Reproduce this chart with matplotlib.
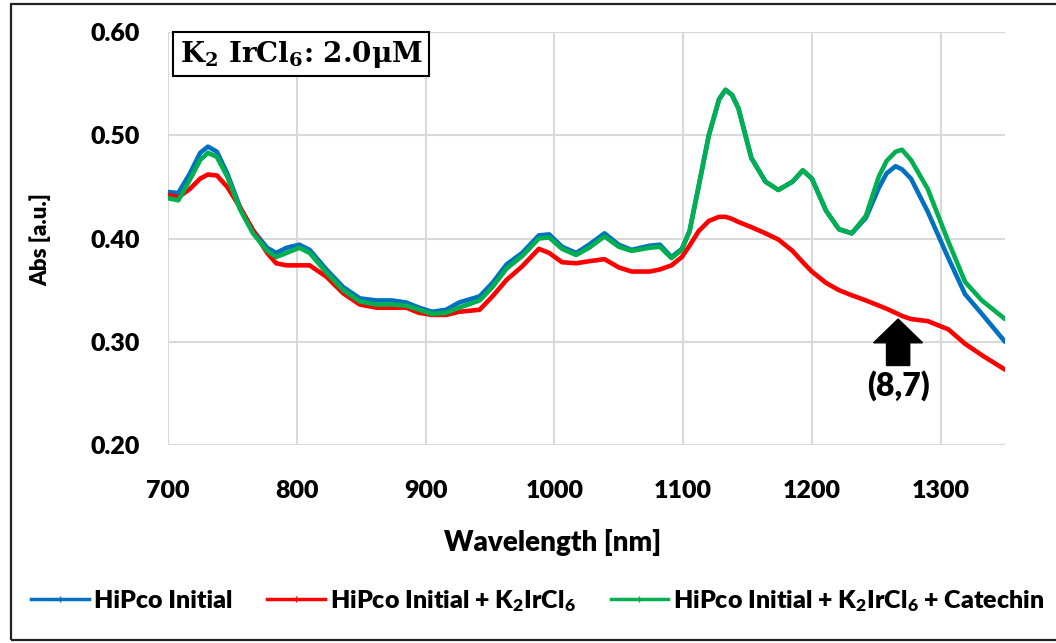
import matplotlib
matplotlib.use("Agg")
import matplotlib.pyplot as plt
from matplotlib.lines import Line2D
from matplotlib.patches import Rectangle

plt.rcParams['font.family'] = ['Lato', 'DejaVu Sans']
plt.rcParams['font.weight'] = 'heavy'
plt.rcParams['mathtext.fontset'] = 'custom'
plt.rcParams['mathtext.rm'] = 'Lato:heavy'
plt.rcParams['mathtext.default'] = 'rm'

# wavelength grid (nm)
wl = [700, 708, 717, 725, 731, 738, 746, 756, 766, 777,
      784, 792, 802, 810, 823, 836, 849, 862, 874, 885,
      895, 905, 916, 926, 942, 952, 963, 975, 988, 996,
      1006, 1017, 1027, 1039, 1050, 1060, 1074, 1082, 1091, 1099,
      1105, 1112, 1120, 1128, 1133, 1138, 1143, 1153, 1164, 1174,
      1185, 1193, 1200, 1211, 1221, 1231, 1242, 1252, 1258, 1265,
      1270, 1277, 1290, 1306, 1319, 1332, 1350]

hipco_initial = [.445, .444, .463, .483, .489, .484, .463, .430, .408, .391,
                 .386, .391, .394, .389, .370, .353, .342, .340, .340, .338,
                 .333, .329, .331, .338, .344, .357, .375, .386, .403, .404,
                 .392, .386, .394, .405, .394, .389, .393, .394, .382, .390,
                 .407, .450, .500, .535, .544, .539, .526, .478, .455, .447,
                 .455, .466, .458, .427, .409, .405, .420, .449, .463, .470,
                 .467, .458, .426, .381, .346, .327, .300]

hipco_k2ircl6 = [.442, .440, .448, .458, .462, .461, .450, .430, .408, .386,
                 .376, .374, .374, .374, .363, .347, .336, .333, .333, .333,
                 .328, .326, .326, .329, .331, .344, .360, .373, .390, .386,
                 .377, .376, .378, .380, .372, .368, .368, .370, .374, .382,
                 .393, .407, .417, .421, .421, .419, .416, .411, .405, .399,
                 .388, .377, .368, .357, .350, .345, .340, .335, .332, .328,
                 .325, .322, .320, .312, .298, .287, .273]

hipco_catechin = [.439, .437, .457, .476, .483, .479, .460, .428, .405, .388,
                  .382, .386, .391, .386, .367, .350, .339, .336, .336, .335,
                  .331, .327, .328, .333, .340, .353, .371, .383, .400, .401,
                  .390, .384, .391, .402, .392, .388, .391, .392, .381, .389,
                  .407, .450, .500, .535, .544, .539, .526, .478, .455, .447,
                  .455, .466, .458, .427, .409, .405, .422, .460, .475, .484,
                  .486, .476, .448, .397, .358, .340, .322]

series_labels = ['HiPco Initial',
                 r'HiPco Initial + K$_2$IrCl$_6$',
                 r'HiPco Initial + K$_2$IrCl$_6$ + Catechin']
colors = ['#0070C0', '#FF0000', '#00B050']

fig = plt.figure(figsize=(10.56, 6.43), dpi=100)
ax = fig.add_axes([168 / 1056, 1 - 445 / 643, (1005 - 168) / 1056, (445 - 32) / 643])

for y, c in zip([hipco_initial, hipco_k2ircl6, hipco_catechin], colors):
    ax.plot(wl, y, color=c, lw=3.3, solid_capstyle='round', solid_joinstyle='round', zorder=3)

ax.set_xlim(700, 1350)
ax.set_ylim(0.2, 0.6)
ax.set_xticks(range(700, 1301, 100))
ax.set_yticks([0.2, 0.3, 0.4, 0.5, 0.6])
ax.set_yticklabels(['0.20', '0.30', '0.40', '0.50', '0.60'])
ax.tick_params(length=0, labelsize=18)
ax.tick_params(axis='y', pad=20)
ax.tick_params(axis='x', pad=25)
for s in ax.spines.values():
    s.set_visible(False)
ax.grid(True, color='#d9d9d9', lw=1.5)
ax.set_axisbelow(True)

# arrow and chirality label
ax.arrow(1267, 0.277, 0, 0.045, width=18, head_width=38, head_length=0.023,
         length_includes_head=True, fc='black', ec='black', zorder=4)
ax.text(1267, 0.258, '(8,7)', ha='center', va='center', fontsize=23)

fig.text(301 / 1056, 1 - 54 / 643, r'K$_{\mathbf{2}}$ IrCl$_{\mathbf{6}}$: 2.0μM',
         family='DejaVu Serif', math_fontfamily='dejavuserif',
         fontweight='bold', fontsize=20, ha='center', va='center',
         bbox=dict(boxstyle='square,pad=0.25', fc='white', ec='black', lw=1.5))

fig.text(40 / 1056, 1 - 240 / 643, 'Abs [a.u.]', rotation=90, ha='center', va='center',
         fontsize=16)
fig.text(553 / 1056, 1 - 543 / 643, 'Wavelength [nm]', ha='center', va='center',
         fontsize=20)

handles = [Line2D([0], [0], color=c, lw=2.5, marker='|', markersize=4) for c in colors]
fig.legend(handles, series_labels, loc='center', bbox_to_anchor=(538 / 1056, 1 - 601 / 643),
           ncol=3, frameon=False, fontsize=18, handlelength=2.3, handletextpad=0.2,
           columnspacing=1.4)

fig.patches.append(Rectangle((11 / 1056, 3 / 643), 1.2, 636 / 643, transform=fig.transFigure,
                             fill=False, ec='#222222', lw=1.6))

fig.savefig('out.png', dpi=100)
